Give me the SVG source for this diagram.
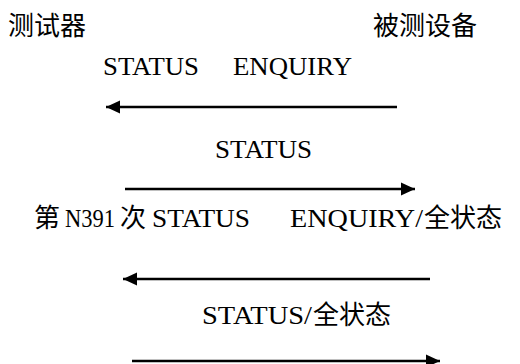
<svg xmlns="http://www.w3.org/2000/svg" width="520" height="364" viewBox="0 0 520 364">
<style>
.cjk{font-family:'Noto Sans CJK SC',sans-serif;font-size:26px;fill:#000}
.lat{font-family:'Liberation Serif','DejaVu Serif','Times New Roman',Times,serif;font-size:26px;fill:#000}
.msg{stroke:#000;stroke-width:2.6;fill:none;marker-end:url(#ah)}
</style>
<defs>
<marker id="ah" markerUnits="userSpaceOnUse" markerWidth="15" markerHeight="14" refX="14" refY="7" orient="auto">
<path d="M0,0.5 L14,7 L0,13.5 z" fill="#000"/>
</marker>
</defs>
<rect width="520" height="364" fill="#fff"/>
<g id="tester">
<text class="cjk" x="8" y="35" font-size="27">测试器</text>
</g>
<g id="dut">
<text class="cjk" x="373" y="35" font-size="27">被测设备</text>
</g>
<g id="connectors">
<g id="msg1">
<text class="lat" x="103" y="75" textLength="96" lengthAdjust="spacingAndGlyphs">STATUS</text>
<text class="lat" x="233" y="75" textLength="119" lengthAdjust="spacingAndGlyphs">ENQUIRY</text>
<line class="msg" x1="397" y1="107" x2="106" y2="107"/>
</g>
<g id="msg2">
<text class="lat" x="215" y="158" textLength="97" lengthAdjust="spacingAndGlyphs">STATUS</text>
<line class="msg" x1="125" y1="189" x2="415" y2="189"/>
</g>
<g id="msg3">
<text class="cjk" x="34" y="227">第</text>
<text class="lat" x="65" y="227" textLength="50" lengthAdjust="spacingAndGlyphs">N391</text>
<text class="cjk" x="120" y="227">次</text>
<text class="lat" x="152" y="227" textLength="98" lengthAdjust="spacingAndGlyphs">STATUS</text>
<text class="lat" x="290" y="227" textLength="133" lengthAdjust="spacingAndGlyphs">ENQUIRY/</text>
<text class="cjk" x="424" y="227">全状态</text>
<line class="msg" x1="430" y1="279" x2="123" y2="279"/>
</g>
<g id="msg4">
<text class="lat" x="202" y="324" textLength="110" lengthAdjust="spacingAndGlyphs">STATUS/</text>
<text class="cjk" x="313" y="324">全状态</text>
<line class="msg" x1="132" y1="361" x2="440" y2="361"/>
</g>
</g>
</svg>
